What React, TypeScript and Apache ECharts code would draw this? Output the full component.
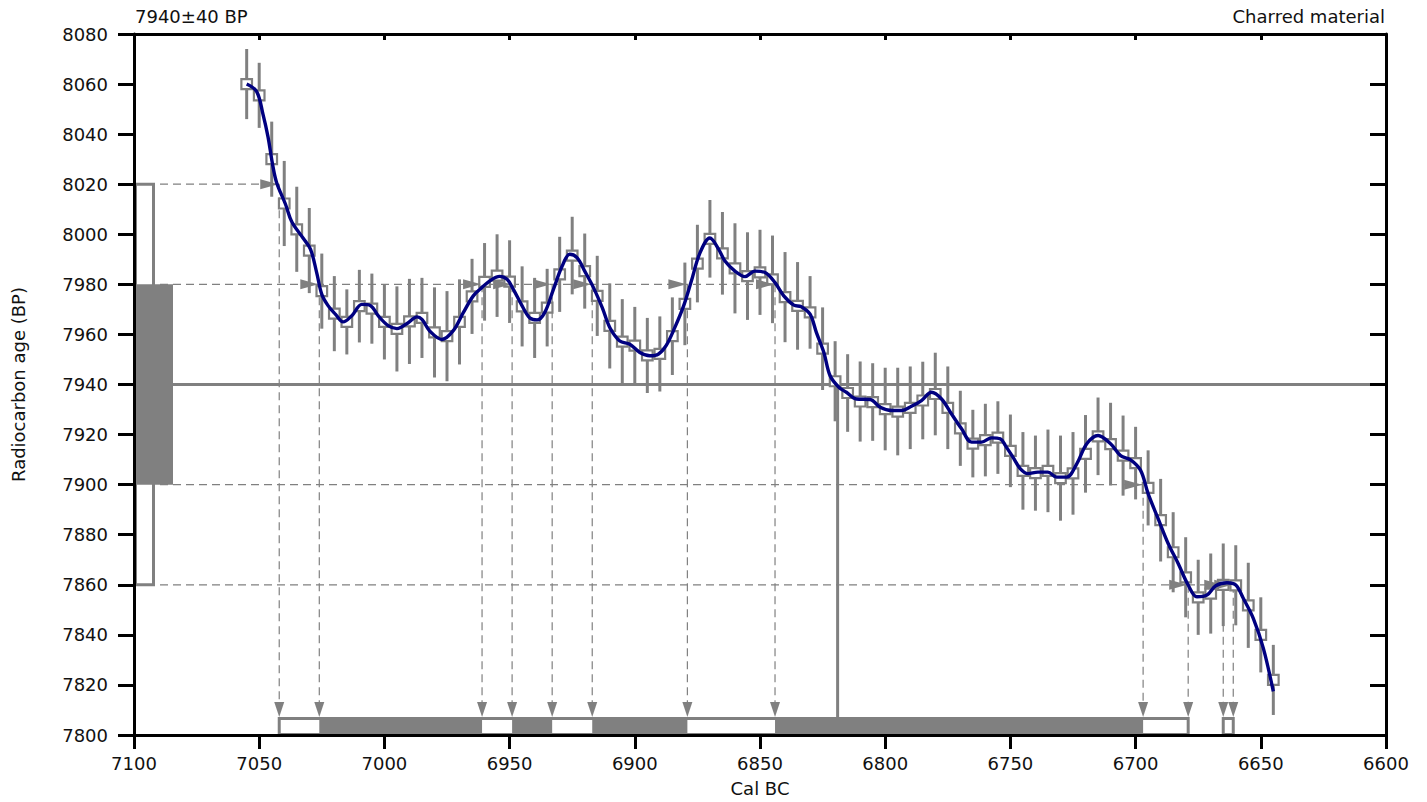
import React, { useEffect, useRef } from "react";
import * as echarts from "echarts";

// ---------- data ----------
const measuredAge = 7940;
const measuredLabel = "7940±40 BP";
const materialLabel = "Charred material";
const sigma1Age = [7900, 7980];
const sigma2Age = [7860, 8020];
const medianYear = 6819;

const levels = [8020, 7980, 7900, 7860];
const interceptsByLevel = [
  [7042],
  [7026, 6961, 6949, 6933, 6917, 6879, 6844],
  [6697],
  [6679, 6665, 6661],
];
const range1Start = [7026, 6949, 6917, 6844];
const range1End = [6961, 6933, 6879, 6697];
const range2Start = [7042, 6665];
const range2End = [6679, 6661];

const pointYears = [
  7055, 7050, 7045, 7040, 7035, 7030, 7025, 7020, 7015, 7010, 7005, 7000,
  6995, 6990, 6985, 6980, 6975, 6970, 6965, 6960, 6955, 6950, 6945, 6940,
  6935, 6930, 6925, 6920, 6915, 6910, 6905, 6900, 6895, 6890, 6885, 6880,
  6875, 6870, 6865, 6860, 6855, 6850, 6845, 6840, 6835, 6830, 6825, 6820,
  6815, 6810, 6805, 6800, 6795, 6790, 6785, 6780, 6775, 6770, 6765, 6760,
  6755, 6750, 6745, 6740, 6735, 6730, 6725, 6720, 6715, 6710, 6705, 6700,
  6695, 6690, 6685, 6680, 6675, 6670, 6665, 6660, 6655, 6650, 6645,
];
const pointBP = [
  8060, 8055.5, 8030, 8012.3, 8002, 7993.5, 7977.3, 7968.3, 7965, 7971.3, 7970.3, 7965,
  7962.2, 7965.2, 7966.6, 7960.8, 7959.3, 7965, 7975.2, 7981, 7983.5, 7981.1, 7971.2, 7966.6,
  7970.7, 7984, 7991.5, 7985.3, 7975.4, 7963.4, 7957.1, 7955.5, 7951.6, 7952.2, 7959.3, 7972.2,
  7988.3, 7998.2, 7992.4, 7986.4, 7983.3, 7984.8, 7982, 7974.9, 7971.4, 7968.8, 7954.3, 7941.3,
  7936.6, 7933.2, 7933, 7930.2, 7929.2, 7930.7, 7933.6, 7936.2, 7930.7, 7922.5, 7916.4, 7917.8,
  7918.8, 7913.5, 7905.5, 7904.6, 7905.5, 7902.6, 7904.5, 7912.3, 7919.3, 7916.2, 7911.6, 7908.6,
  7898.7, 7885.8, 7873, 7863, 7855, 7856.5, 7860, 7859.8, 7851.8, 7840, 7822,
];
const pointErr = [
  14, 13, 15, 17, 17, 17, 15, 15, 13, 14.5, 14, 15,
  17, 17, 16, 18, 18, 17, 15, 15.5, 16.5, 16.5, 16, 16,
  15.5, 15, 15.5, 15, 16, 17, 17, 15.5, 15, 15, 15.5, 16.5,
  15.5, 15.5, 16.5, 18, 17.5, 17, 17.5, 18, 17.5, 14.5, 16.5, 16,
  15.5, 16, 15.5, 16.5, 17.5, 16.5, 15.5, 16.5, 16.5, 15, 13.5, 14.5,
  14.5, 14.5, 15.5, 15, 16.5, 17, 16.5, 15.5, 15.5, 16.5, 16, 14.5,
  15, 16.5, 16, 16, 15, 16, 16.5, 16, 17, 15, 14,
];

const curvePoints: [number, number][] = [
  [7055, 8060], [7051, 8057], [7048.5, 8048], [7046.5, 8039], [7044.5, 8027],
  [7043, 8020.5], [7039.5, 8012], [7037, 8005], [7032.5, 7998.5], [7029.5, 7994],
  [7027, 7984.5], [7025, 7976], [7022.5, 7971.5], [7019.5, 7968], [7016.5, 7965],
  [7013, 7967.5], [7009, 7972], [7005.5, 7971.5], [7002.5, 7967.5], [6998.5, 7963.5],
  [6995, 7962.3], [6990.5, 7964.7], [6987, 7967], [6985, 7966], [6982, 7961.5],
  [6977, 7958], [6972.5, 7961.5], [6968.5, 7968.7], [6964.5, 7975.4], [6961, 7978.8],
  [6957, 7982], [6954, 7983.2], [6951, 7982], [6948.5, 7978], [6945, 7971.4],
  [6942, 7966.7], [6939, 7965.8], [6936, 7968.7], [6932.5, 7978], [6929, 7987.3],
  [6926, 7992], [6923, 7990.6], [6920, 7985.3], [6916.5, 7978.7], [6913, 7970.7],
  [6910, 7962.8], [6906, 7957.4], [6902, 7956.1], [6898, 7952.8], [6894, 7951.5],
  [6890.5, 7952.2], [6887.5, 7955.5], [6884, 7962.8], [6880.5, 7971.4], [6877.5, 7981],
  [6874, 7992.5], [6870, 7998.5], [6866.5, 7994], [6864, 7989.3], [6860, 7985.3],
  [6856, 7983.1], [6852, 7985.3], [6848, 7984.7], [6844, 7980.7], [6840.5, 7975.4],
  [6836.5, 7971.7], [6833.5, 7971.1], [6830, 7968.1], [6827.5, 7960.8], [6824.5, 7952.8],
  [6822, 7943.5], [6818.5, 7938.9], [6815.5, 7936.9], [6811.5, 7934.2], [6806, 7934],
  [6802, 7930.9], [6797.5, 7929.6], [6793.5, 7929.6], [6789.5, 7931.3], [6785.5, 7933.6],
  [6781.5, 7936.9], [6777.5, 7934.2], [6773.5, 7928.2], [6769.5, 7922.3], [6765.5, 7917],
  [6761.5, 7917], [6757.5, 7918.7], [6754, 7918.3], [6752, 7915.6], [6749, 7911],
  [6746, 7906.3], [6743, 7904.4], [6739, 7905], [6735, 7905], [6731.5, 7903],
  [6727.5, 7903], [6723.5, 7908.3], [6719.5, 7916.3], [6715, 7919.6], [6710, 7916.3],
  [6706, 7911.6], [6702, 7909.9], [6698, 7905.7], [6695, 7896.4], [6691, 7886.4],
  [6687, 7876.5], [6683, 7868.5], [6679, 7859.9], [6675.5, 7855.2], [6671.5, 7855.9],
  [6668, 7859.6], [6663.5, 7860.8], [6660, 7859.9], [6657, 7854.6], [6653, 7846.6],
  [6649, 7834.7], [6645, 7817.4],
];

// ---------- styles ----------
const GREY = "#808080";
const NAVY = "#000080";
const FONT = "DejaVu Sans";
const TEXT = "#111";

export default function App() {
  const ref = useRef<HTMLDivElement>(null);

  useEffect(() => {
    if (!ref.current) return;
    const chart = echarts.init(ref.current, null, { renderer: "svg" });

    const errData = pointYears.map((y, i) => [y, pointBP[i], pointErr[i]]);
    const arrowData: number[][] = [];
    levels.forEach((lv, i) => interceptsByLevel[i].forEach((yr) => arrowData.push([yr, lv])));
    const hDashData = levels.map((lv, i) => [Math.min(...interceptsByLevel[i]), lv]);
    const r1Data = range1Start.map((s, i) => [s, range1End[i]]);
    const r2Data = range2Start.map((s, i) => [s, range2End[i]]);

    const dash = [8, 5];
    const axisLine = { show: true, onZero: false, lineStyle: { color: "#000", width: 3 } };
    const tickStyle = { color: "#000", width: 3 };
    const labelStyle = { fontFamily: FONT, fontSize: 18, color: TEXT };
    const plain = (v: number) => String(v);

    const option: any = {
      animation: false,
      backgroundColor: "#fff",
      grid: { left: 134, right: 41, top: 34, bottom: 65, containLabel: false },
      xAxis: [
        {
          type: "value", position: "bottom", min: 6600, max: 7100, interval: 50, inverse: true, z: 10,
          axisLine, axisTick: { show: true, inside: false, length: 14, lineStyle: tickStyle },
          axisLabel: { ...labelStyle, margin: 19, formatter: plain, showMinLabel: true, showMaxLabel: true },
          splitLine: { show: false },
          name: "Cal BC", nameLocation: "middle", nameGap: 44, nameTextStyle: labelStyle,
        },
        {
          type: "value", position: "top", min: 6600, max: 7100, interval: 50, inverse: true, z: 10,
          axisLine, axisTick: { show: true, inside: true, length: 6, lineStyle: tickStyle },
          axisLabel: { show: false }, splitLine: { show: false },
        },
      ],
      yAxis: [
        {
          type: "value", position: "left", min: 7800, max: 8080, interval: 20, z: 10,
          axisLine, axisTick: { show: true, inside: false, length: 16, lineStyle: tickStyle },
          axisLabel: { ...labelStyle, margin: 26, formatter: plain, showMinLabel: true, showMaxLabel: true },
          splitLine: { show: false },
          name: "Radiocarbon age (BP)", nameLocation: "middle", nameGap: 107, nameRotate: 90,
          nameTextStyle: labelStyle,
        },
        {
          type: "value", position: "right", min: 7800, max: 8080, interval: 20, z: 10,
          axisLine, axisTick: { show: true, inside: true, length: 16, lineStyle: tickStyle },
          axisLabel: { show: false }, splitLine: { show: false },
        },
      ],
      graphic: [
        { type: "text", left: 135, top: 7, style: { text: measuredLabel, font: `18px "${FONT}"`, fill: TEXT } },
        { type: "text", right: 42, top: 7, style: { text: materialLabel, font: `18px "${FONT}"`, fill: TEXT } },
      ],
      series: [
        // measured age line
        {
          type: "custom", z: 1, data: [[7100, measuredAge]],
          renderItem: (params: any, api: any) => {
            const cs = params.coordSys;
            const c = api.coord([api.value(0), api.value(1)]);
            return { type: "line", shape: { x1: cs.x, y1: c[1], x2: cs.x + cs.width, y2: c[1] }, style: { stroke: GREY, lineWidth: 3 } };
          },
        },
        // median line
        {
          type: "custom", z: 1, data: [[medianYear, measuredAge]],
          renderItem: (params: any, api: any) => {
            const cs = params.coordSys;
            const c = api.coord([api.value(0), api.value(1)]);
            return { type: "line", shape: { x1: c[0], y1: c[1], x2: c[0], y2: cs.y + cs.height }, style: { stroke: GREY, lineWidth: 3 } };
          },
        },
        // horizontal dashed lines
        {
          type: "custom", z: 2, data: hDashData,
          renderItem: (params: any, api: any) => {
            const cs = params.coordSys;
            const c = api.coord([api.value(0), api.value(1)]);
            return { type: "line", shape: { x1: cs.x, y1: c[1], x2: c[0], y2: c[1] }, style: { stroke: GREY, lineWidth: 1.2, lineDash: dash } };
          },
        },
        // vertical dashed lines + down arrows
        {
          type: "custom", z: 2, data: arrowData,
          renderItem: (params: any, api: any) => {
            const cs = params.coordSys;
            const c = api.coord([api.value(0), api.value(1)]);
            const bottom = cs.y + cs.height;
            return {
              type: "group",
              children: [
                { type: "line", shape: { x1: c[0], y1: c[1], x2: c[0], y2: bottom - 32 }, style: { stroke: GREY, lineWidth: 1.2, lineDash: dash } },
                { type: "polygon", shape: { points: [[c[0], bottom - 18], [c[0] - 5, bottom - 33], [c[0] + 5, bottom - 33]] }, style: { fill: GREY } },
              ],
            };
          },
        },
        // error bars
        {
          type: "custom", z: 3, data: errData,
          renderItem: (_p: any, api: any) => {
            const x = api.value(0), v = api.value(1), e = api.value(2);
            const a = api.coord([x, v + e]);
            const b = api.coord([x, v - e]);
            return { type: "line", shape: { x1: a[0], y1: a[1], x2: b[0], y2: b[1] }, style: { stroke: GREY, lineWidth: 3 } };
          },
        },
        // data squares
        {
          type: "custom", z: 4, data: errData,
          renderItem: (_p: any, api: any) => {
            const c = api.coord([api.value(0), api.value(1)]);
            return { type: "rect", shape: { x: c[0] - 5.3, y: c[1] - 5, width: 10.6, height: 10 }, style: { fill: "#fff", stroke: GREY, lineWidth: 2.2 } };
          },
        },
        // right-pointing arrows at intercepts
        {
          type: "custom", z: 5, data: arrowData,
          renderItem: (_p: any, api: any) => {
            const c = api.coord([api.value(0), api.value(1)]);
            return { type: "polygon", shape: { points: [[c[0] - 1, c[1]], [c[0] - 19, c[1] - 5], [c[0] - 19, c[1] + 5]] }, style: { fill: GREY } };
          },
        },
        // left age box
        {
          type: "custom", z: 5, data: [[sigma2Age[0], sigma2Age[1], sigma1Age[0], sigma1Age[1]]],
          renderItem: (params: any, api: any) => {
            const cs = params.coordSys;
            const x0 = cs.x + 1.5;
            const y2a = api.coord([7100, api.value(1)])[1];
            const y2b = api.coord([7100, api.value(0)])[1];
            const y1a = api.coord([7100, api.value(3)])[1];
            const y1b = api.coord([7100, api.value(2)])[1];
            return {
              type: "group",
              children: [
                { type: "rect", shape: { x: x0, y: y2a, width: 18, height: y2b - y2a }, style: { fill: "#fff", stroke: GREY, lineWidth: 3 } },
                { type: "rect", shape: { x: x0 - 1.5, y: y1a, width: 39, height: y1b - y1a }, style: { fill: GREY } },
              ],
            };
          },
        },
        // 2-sigma ranges (outlined)
        {
          type: "custom", z: 5, data: r2Data,
          renderItem: (params: any, api: any) => {
            const cs = params.coordSys;
            const bottom = cs.y + cs.height;
            const xa = api.coord([api.value(0), 7800])[0];
            const xb = api.coord([api.value(1), 7800])[0];
            return { type: "rect", shape: { x: xa, y: bottom - 16.5, width: xb - xa, height: 16 }, style: { fill: "#fff", stroke: GREY, lineWidth: 3 } };
          },
        },
        // 1-sigma ranges (filled)
        {
          type: "custom", z: 5, data: r1Data,
          renderItem: (params: any, api: any) => {
            const cs = params.coordSys;
            const bottom = cs.y + cs.height;
            const xa = api.coord([api.value(0), 7800])[0];
            const xb = api.coord([api.value(1), 7800])[0];
            return { type: "rect", shape: { x: xa, y: bottom - 18, width: xb - xa, height: 18 }, style: { fill: GREY } };
          },
        },
        // calibration curve
        {
          type: "line", z: 6, data: curvePoints, showSymbol: false, smooth: 0.35,
          lineStyle: { color: NAVY, width: 3.4 }, silent: true,
        },
      ],
    };

    chart.setOption(option);
    return () => chart.dispose();
  }, []);

  return (
    <div
      ref={ref}
      style={{ position: "fixed", left: 0, top: 0, width: 1427, height: 802, background: "#fff" }}
    />
  );
}
